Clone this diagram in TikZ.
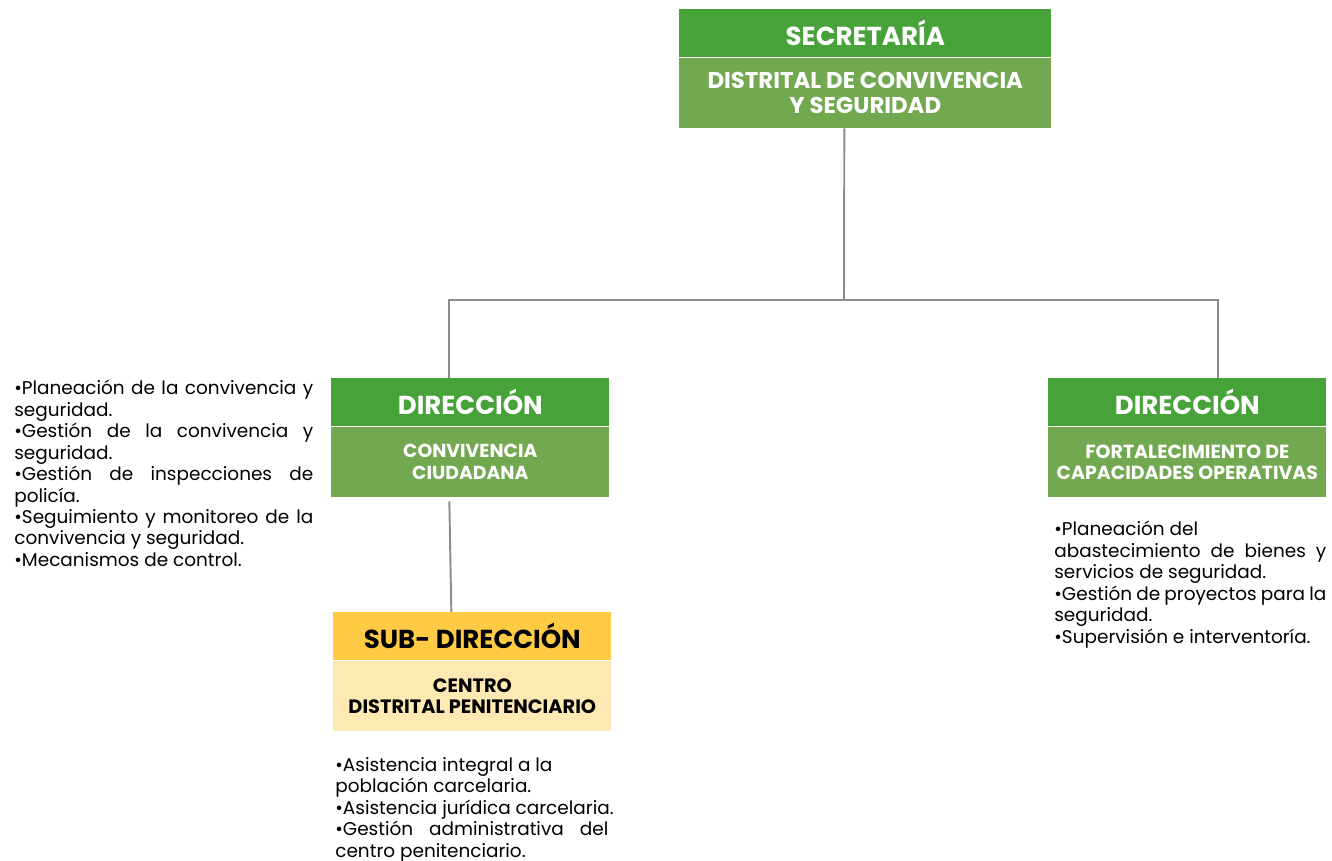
\documentclass[tikz,border=0pt]{standalone}
\usepackage{fontspec}
\setmainfont{Poppins}
\usetikzlibrary{positioning}
\definecolor{verdeosc}{HTML}{48A23A}
\definecolor{verdecla}{HTML}{72A84F}
\definecolor{amarosc}{HTML}{FFCB45}
\definecolor{amarcla}{HTML}{FEE9B2}
\definecolor{gris}{HTML}{8C8C8C}

\begin{document}
\begin{tikzpicture}[x=0.02cm,y=-0.02cm,
    cab/.style={fill=verdeosc,text=white,font=\bfseries\fontsize{14.8}{16}\selectfont,
        minimum height=0.96cm,inner sep=0pt,anchor=north west},
    cuerpo/.style={fill=verdecla,text=white,font=\bfseries\fontsize{13}{14.7}\selectfont,
        minimum height=1.4cm,inner sep=0pt,align=center,below=0pt of #1},
    linea/.style={draw=gris,line width=1.1pt},
    lista/.style={anchor=north west,inner sep=0pt,align=justify,
        font=\fontsize{10.5}{12.2}\selectfont,
        execute at begin node={\setlength{\parindent}{0pt}\hyphenpenalty=10000\exhyphenpenalty=10000}}]
    \useasboundingbox (0,0) rectangle (1332,861);
    % cajas
    \node[cab,minimum width=7.44cm] (secret) at (679,9) {SECRETARÍA};
    \node[cuerpo=secret,minimum width=7.44cm] (secretb) {DISTRITAL DE CONVIVENCIA\\Y SEGURIDAD};
    \node[cab,minimum width=5.56cm] (dirizq) at (331,378) {DIRECCIÓN};
    \node[cuerpo=dirizq,minimum width=5.56cm,font=\bfseries\fontsize{10.7}{12.5}\selectfont] (dirizqb) {CONVIVENCIA\\CIUDADANA};
    \node[cab,minimum width=5.56cm] (dirder) at (1048,378) {DIRECCIÓN};
    \node[cuerpo=dirder,minimum width=5.56cm,font=\bfseries\fontsize{10.8}{12.2}\selectfont] (dirderb) {FORTALECIMIENTO DE\\CAPACIDADES OPERATIVAS};
    \node[cab,minimum width=5.56cm,fill=amarosc,text=black] (subdir) at (333,612) {SUB- DIRECCIÓN};
    \node[cuerpo=subdir,minimum width=5.56cm,fill=amarcla,text=black,font=\bfseries\fontsize{11}{12.2}\selectfont] (subdirb) {CENTRO\\DISTRITAL PENITENCIARIO};
    % conectores
    \coordinate (rama) at (844,300);
    \draw[linea] ([xshift=-0.42cm]secretb.south) -- (rama);
    \draw[linea] ([xshift=-0.42cm]dirizq.north) |- (rama) -| ([xshift=0.62cm]dirder.north);
    \draw[linea] ([xshift=-0.42cm,yshift=-0.08cm]dirizqb.south) -- ([xshift=-0.42cm]subdir.north);
    % funciones
    \node[lista,text width=5.98cm] (funizq) at (14,380) {•Planeación de la convivencia y\linebreak seguridad.\par
        •Gestión de la convivencia y\linebreak seguridad.\par
        •Gestión de inspecciones de\linebreak policía.\par
        •Seguimiento y monitoreo de la\linebreak convivencia y seguridad.\par
        •Mecanismos de control.};
    \node[lista,text width=5.44cm] (funder) at (1054,521) {•Planeación del\newline
        abastecimiento de bienes y\linebreak servicios de seguridad.\par
        •Gestión de proyectos para la\linebreak seguridad.\par
        •Supervisión e interventoría.};
    \node[lista,text width=5.46cm] (funsub) at (335,757) {•Asistencia integral a la\newline
        población carcelaria.\par
        \mbox{•Asistencia jurídica carcelaria.}\par
        •Gestión administrativa del\linebreak centro penitenciario.};
\end{tikzpicture}
\end{document}
